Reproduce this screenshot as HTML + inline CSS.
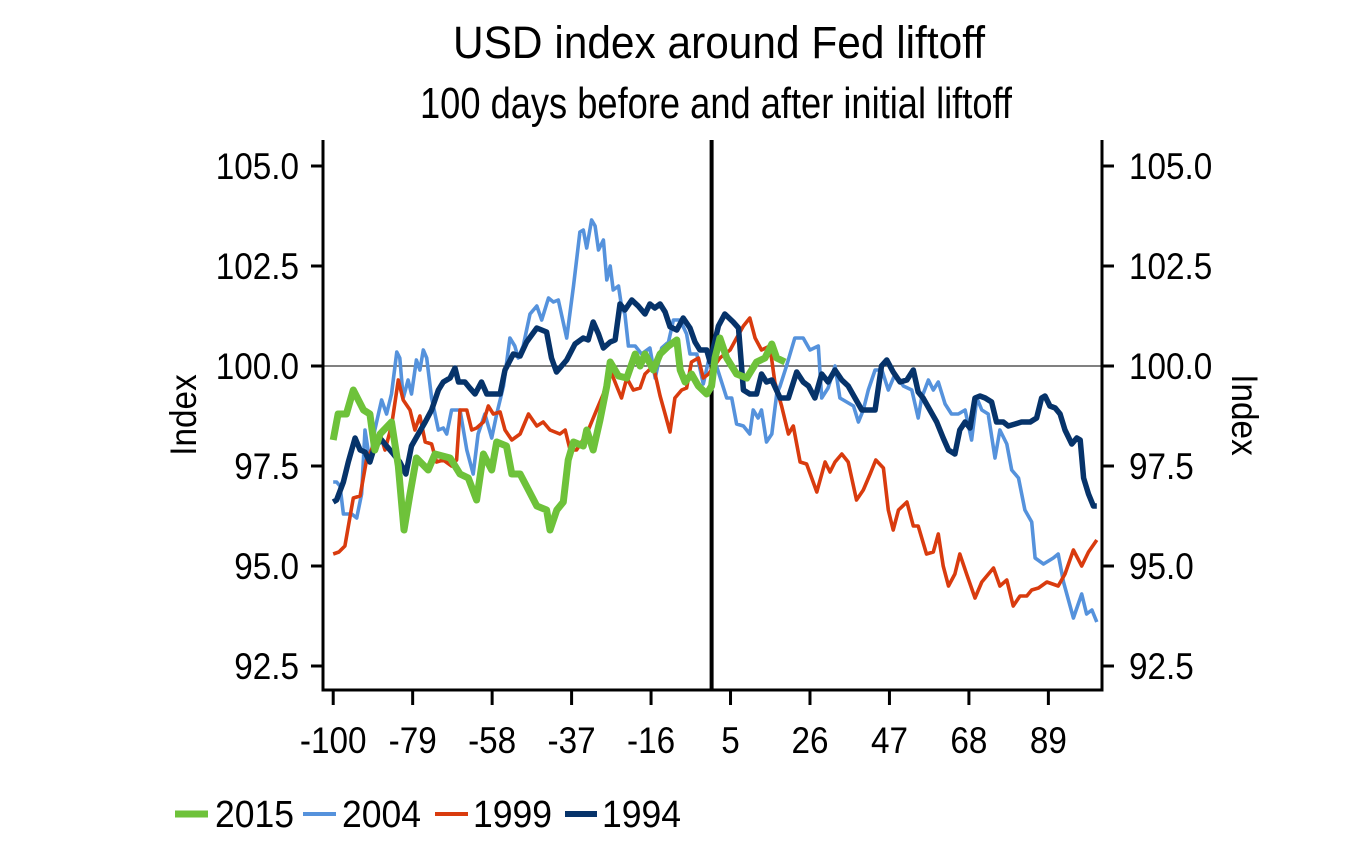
<!DOCTYPE html>
<html><head><meta charset="utf-8"><style>
html,body{margin:0;padding:0;background:#fff;}
svg text{font-family:"Liberation Sans Narrow","Liberation Sans",sans-serif;fill:#000;}
</style></head><body>
<svg id="chart" width="1359" height="836" viewBox="0 0 1359 836" xmlns="http://www.w3.org/2000/svg">
<text x="719" y="58" font-size="45" text-anchor="middle" textLength="532" lengthAdjust="spacingAndGlyphs">USD index around Fed liftoff</text>
<text x="716" y="118" font-size="44" text-anchor="middle" textLength="592" lengthAdjust="spacingAndGlyphs">100 days before and after initial liftoff</text>
<g id="axes"></g>
<g id="series"></g>
<g id="legend"></g>
</svg>
<script>
const xTicks=[-100,-79,-58,-37,-16,5,26,47,68,89];
const yTicks=[92.5,95.0,97.5,100.0,102.5,105.0];
const days2015=[-100,-98.7,-96.5,-94.7,-92,-90.3,-89,-87.6,-84.6,-82.8,-81.3,-79.7,-78,-74.9,-73.1,-69.1,-66.5,-64.3,-62.1,-60.3,-58.1,-56.8,-54.2,-52.8,-50.6,-48.4,-46.2,-43.6,-42.7,-40.9,-39.2,-37.9,-36.5,-33.9,-33,-31.3,-29.5,-27.7,-26.8,-24.6,-22.4,-20.2,-18.9,-17.6,-15.4,-13.6,-11.4,-9.2,-8.3,-7,-5.3,-3.5,-1.3,0,0.9,2.2,4,6.6,9.3,11.9,14.1,15.9,17.2,19.4];
const vals2015=[98.15,98.8,98.8,99.4,98.9,98.8,97.9,98.3,98.6,97.5,95.9,96.8,97.7,97.4,97.8,97.7,97.3,97.2,96.65,97.8,97.4,98.1,98,97.3,97.3,96.9,96.5,96.4,95.9,96.4,96.6,97.65,98.1,98,98.4,97.9,98.65,99.5,100.1,99.75,99.7,100.3,100,100.3,99.9,100.3,100.5,100.65,99.9,99.6,99.8,99.5,99.3,99.5,100.2,100.7,100.2,99.8,99.7,100.1,100.2,100.55,100.2,100.1];
const days2004=[-100,-99.1,-98.2,-97.3,-95.1,-93.8,-92.5,-91.6,-90.3,-89,-87.2,-85.9,-84.6,-83.2,-82.4,-81.5,-80.2,-79.3,-78,-77.1,-76.2,-75.3,-74,-72.2,-70.9,-70,-68.7,-66.5,-64.7,-63,-61.7,-59.9,-58.1,-56.8,-55,-53.3,-52,-51.1,-49.8,-48,-46.2,-44.9,-43.1,-41.8,-40.5,-38.3,-36.5,-34.8,-33.9,-33,-31.7,-30.8,-29.9,-28.6,-27.7,-26.8,-26,-24.6,-23.8,-22.9,-22,-20.2,-18.5,-16.3,-14.9,-13.2,-11.4,-10.1,-8.3,-6.6,-5.7,-3.9,-2.2,-0.9,1.3,4,5.3,6.6,8.4,10.1,11,12.3,13.2,14.5,15.9,17.2,18.1,19.8,22,24.2,26,28.2,29.1,30.8,32.6,33.9,35.7,37.5,38.8,40.1,41.4,43.2,45,46.7,48.5,50.7,52.9,54.6,55.5,57.3,58.6,59.9,61.7,63.4,65.2,67,68.7,70.1,71.4,73.1,74.9,76.2,78,79.3,81.1,82.8,84.6,85.5,87.7,90.3,91.6,93,95.6,97.8,99.1,100.5,101.8];
const vals2004=[97.1,97.1,97,96.3,96.3,96.2,96.8,98.4,97.6,98.4,99.15,98.8,99.3,100.35,100.2,99.2,99.65,99.3,100.15,99.9,100.4,100.2,99.2,98.4,98.45,98.3,98.9,98.9,97.9,97.3,98.3,98.8,98.2,98.8,99.5,100.7,100.5,100.2,100.5,101.3,101.5,101.15,101.7,101.6,101.65,100.7,102,103.35,103.4,102.95,103.65,103.5,102.9,103.15,102.15,102.5,101.9,102,101.5,101.3,100.5,100.5,100.3,100.45,99.7,100.45,100.6,101.15,101.15,100.8,100.3,100.3,99.55,100.1,100,99.2,99.2,98.55,98.5,98.3,98.9,98.7,98.9,98.1,98.3,99.3,99.5,100,100.7,100.7,100.4,100.5,99.2,99.45,100,99.2,99.1,99,98.6,98.9,99.4,99.9,99.9,99.4,99.8,99.5,99.4,98.7,99.2,99.65,99.4,99.6,99.05,98.8,98.8,98.9,98.15,99.2,98.9,98.8,97.7,98.4,98.05,97.4,97.2,96.4,96.1,95.2,95.05,95.2,95.3,94.6,93.7,94.3,93.8,93.9,93.6];
const days1999=[-100,-98.5,-96.9,-94.7,-92.9,-91.2,-89.4,-87.6,-86.3,-84.6,-82.8,-81.5,-79.7,-78.4,-77.1,-75.7,-74,-72.7,-70.9,-68.7,-67.4,-66.5,-64.7,-63.4,-62.1,-60.3,-59,-57.7,-55.9,-54.6,-52.8,-50.6,-48.4,-46.2,-44.5,-42.7,-40.1,-38.7,-37.4,-35.7,-33,-31.7,-30.4,-28.6,-26.8,-25.1,-23.8,-22.4,-20.7,-18.9,-17.6,-15.4,-13.6,-12.3,-11,-9.7,-7.9,-6.6,-5.3,-3.5,-2.2,-0.8,2.2,4.9,6.6,8.4,10.1,11.5,13.2,15.4,16.7,18.5,20.3,21.6,23.4,25.1,27.8,30,31.3,32.6,34.4,36.1,38.3,40.1,41.9,43.4,45.4,46.7,48,49.4,51.6,53.3,54.6,56.8,58.6,59.9,61.2,62.6,64.3,65.6,67.4,69.6,71.4,74.5,76.2,78,79.7,81.5,83.3,84.6,86.4,88.6,91.6,93.4,95.6,97.8,99.6,101.8];
const vals1999=[95.3,95.35,95.5,96.7,96.75,97.65,98,98.3,97.9,98.5,99.65,99.15,98.9,98.4,98.75,98.1,98.05,97.6,97.65,97.5,97.65,98.9,98.9,98.4,98.45,98.6,99,98.8,98.85,98.4,98.15,98.3,98.8,98.5,98.6,98.4,98.3,98.4,97.9,97.9,98.3,98.6,98.9,99.3,99.9,99.5,99.2,99.7,99.4,99.45,99.8,100,99.25,98.8,98.35,99.2,99.4,99.45,100.1,100.2,99.7,99.8,100.2,100.4,100.7,101,101.2,100.7,100.4,100.5,99.6,99,98.3,98.5,97.6,97.55,96.85,97.6,97.35,97.6,97.8,97.6,96.65,96.9,97.3,97.65,97.45,96.4,95.9,96.4,96.6,96,96,95.3,95.35,95.8,95,94.5,94.8,95.3,94.8,94.2,94.6,94.95,94.5,94.65,94,94.25,94.25,94.4,94.45,94.6,94.5,94.8,95.4,95,95.35,95.65];
const days1994=[-100,-99.1,-97.3,-96,-94.2,-92.9,-91.6,-90.3,-89,-87.2,-85.9,-84.1,-82.4,-80.8,-79.3,-77.5,-75.7,-74,-72.2,-70.9,-69.1,-67.8,-66.9,-65.2,-63.9,-62.5,-60.8,-59.4,-57.7,-55.9,-54.6,-52.4,-50.6,-48.9,-46.2,-43.6,-42.3,-41,-38.3,-36.1,-33.9,-32.6,-31.3,-29.9,-28.6,-26.8,-25.5,-24.2,-22.9,-21.1,-19.4,-17.6,-16.3,-15,-13.6,-12.3,-11,-9.2,-7.5,-5.7,-4.4,-3.1,-1.3,-0.4,1.8,3.5,5.7,7.1,8.4,10.1,11.9,13.2,14.5,15.9,18.1,20.3,22.5,24.2,25.6,27.3,29.1,30.8,32.6,34.4,36.1,37.9,39.7,41,43.2,44.9,46.3,48,49.8,51.6,53.3,54.6,55.9,57.7,59.5,61.2,62.6,64.3,65.6,67,68.3,69.6,70.9,72.3,74,75.3,77.1,78.4,80.2,81.9,84.2,85.9,87.2,88.1,89.4,90.8,92.1,93.4,95.2,96.5,97.4,98.3,99.6,100.9,101.8];
const vals1994=[96.6,96.65,97.1,97.6,98.2,97.9,97.85,97.6,98,98.15,98,97.8,97.6,97.3,98,98.3,98.6,98.9,99.4,99.6,99.7,99.95,99.6,99.6,99.45,99.3,99.6,99.3,99.3,99.3,99.9,100.3,100.25,100.6,100.95,100.85,100.2,99.85,100.15,100.55,100.7,100.65,101.1,100.8,100.45,100.6,100.65,101.55,101.4,101.65,101.5,101.3,101.55,101.45,101.55,101.35,100.98,100.9,101.2,100.95,100.6,100.4,100.4,100.1,101,101.3,101.1,100.95,99.4,99.3,99.3,99.8,99.6,99.65,99.2,99.2,99.85,99.6,99.5,99.2,99.8,99.6,99.9,99.65,99.5,99.2,98.9,98.9,98.9,100,100.15,99.85,99.6,99.65,99.9,99.35,99.2,98.9,98.6,98.2,97.9,97.8,98.4,98.6,98.45,99.2,99.25,99.2,99.1,98.6,98.6,98.5,98.55,98.6,98.6,98.7,99.2,99.25,99,98.95,98.8,98.4,98.05,98.2,98.15,97.2,96.8,96.5,96.5];

const NS="http://www.w3.org/2000/svg";
const X0=333.2, XS=3.784, Y100=366, YS=40, L=323, R=1102, T=140, B=690;
const FS=37, SQ=0.9;
function xScale(d){return X0+(d+100)*XS;}
function yScale(v){return Y100-(v-100)*YS;}
function mk(tag,attrs,parent){const e=document.createElementNS(NS,tag);for(const k in attrs)e.setAttribute(k,attrs[k]);parent.appendChild(e);return e;}
function squeeze(t){const w=t.getComputedTextLength();t.setAttribute('textLength',(w*SQ).toFixed(1));t.setAttribute('lengthAdjust','spacingAndGlyphs');}
const axes=document.getElementById('axes');
let e;
e=mk('line',{x1:L,y1:yScale(100),x2:R,y2:yScale(100),stroke:'#000','stroke-width':1},axes);


e=mk('line',{x1:xScale(0),y1:T,x2:xScale(0),y2:B,stroke:'#000','stroke-width':4},axes);


e=mk('polyline',{points:`${L},${T} ${L},${B} ${R},${B} ${R},${T}`,fill:'none',stroke:'#000','stroke-width':3},axes);


yTicks.forEach(v=>{
  const y=yScale(v);
  e=mk('line',{x1:L-12,y1:y,x2:L,y2:y,stroke:'#000','stroke-width':3},axes);
  
  
  e=mk('line',{x1:R,y1:y,x2:R+12,y2:y,stroke:'#000','stroke-width':3},axes);
  
  
  e=mk('text',{x:299,y:y+13,'font-size':FS,'text-anchor':'end'},axes);e.textContent=v.toFixed(1);squeeze(e);
  
  
  e=mk('text',{x:1129,y:y+13,'font-size':FS,'text-anchor':'start'},axes);e.textContent=v.toFixed(1);squeeze(e);
  
  
});
xTicks.forEach(d=>{
  const x=xScale(d);
  e=mk('line',{x1:x,y1:B,x2:x,y2:B+15,stroke:'#000','stroke-width':3},axes);
  
  
  e=mk('text',{x:x,y:753,'font-size':FS,'text-anchor':'middle'},axes);e.textContent=String(d);squeeze(e);
  
  
});
e=mk('text',{x:0,y:0,'font-size':FS,'text-anchor':'middle',transform:'translate(196,415) rotate(-90)'},axes);e.textContent='Index';squeeze(e);


e=mk('text',{x:0,y:0,'font-size':FS,'text-anchor':'middle',transform:'translate(1232,415) rotate(90)'},axes);e.textContent='Index';squeeze(e);



const series=document.getElementById('series');
function drawLine(days,vals,color,w,name){
  const pts=days.map((d,i)=>xScale(d).toFixed(1)+','+yScale(vals[i]).toFixed(1)).join(' ');
  const p=mk('polyline',{points:pts,fill:'none',stroke:color,'stroke-width':w,'stroke-linejoin':'round'},series);
  
  
}
drawLine(days2004,vals2004,'#5592dc',3.6,'series-2004');
drawLine(days1999,vals1999,'#d93b0e',3.6,'series-1999');
drawLine(days1994,vals1994,'#06336a',5.5,'series-1994');
drawLine(days2015,vals2015,'#6ec23a',7,'series-2015');

const legend=document.getElementById('legend');
const legItems=[['2015','#6ec23a',7,175,208,215],['2004','#5592dc',4,303,336,342],['1999','#d93b0e',4,435,468,473],['1994','#06336a',6,565,597,602]];
legItems.forEach(it=>{
  const g=mk('g',{},legend);
  
  
  mk('line',{x1:it[3],y1:814,x2:it[4],y2:814,stroke:it[1],'stroke-width':it[2]},g);
  const t=mk('text',{x:it[5],y:827,'font-size':38},g);t.textContent=it[0];
  t.setAttribute('textLength','79');t.setAttribute('lengthAdjust','spacingAndGlyphs');
});
</script>
</body></html>
